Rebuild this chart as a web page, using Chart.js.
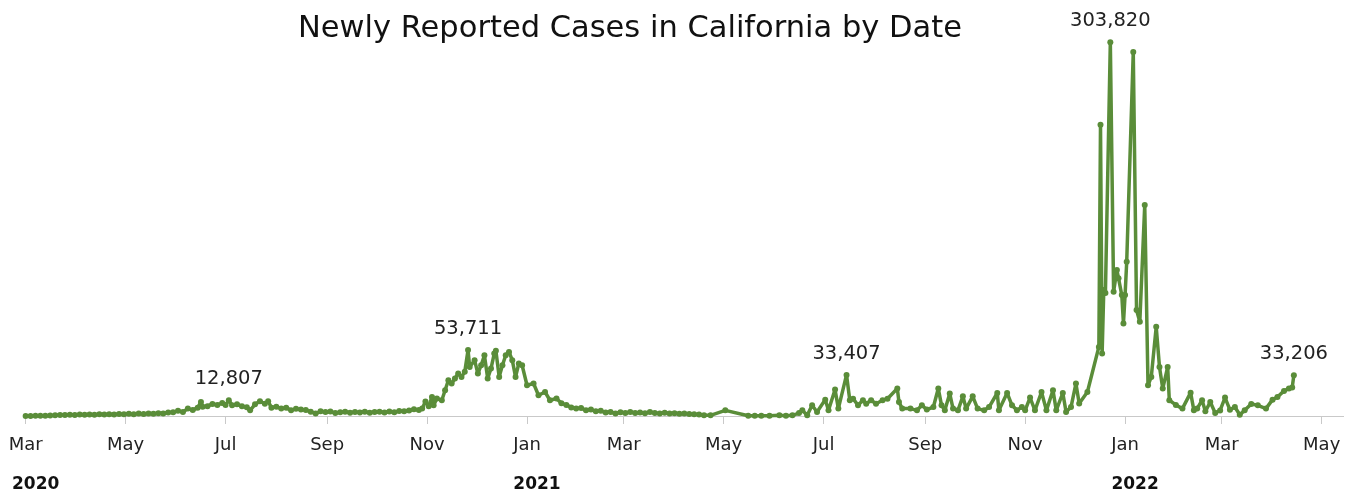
<!DOCTYPE html>
<html>
<head>
<meta charset="utf-8">
<script src="https://cdn.jsdelivr.net/npm/chart.js@4/dist/chart.umd.min.js"></script>
<style>
html,body{margin:0;padding:0;background:#fff;}
#wrap{position:relative;width:1359px;height:494px;overflow:hidden;}
#c{position:absolute;left:0;top:0;}
#title{position:absolute;left:0;top:9px;width:1260px;text-align:center;font-family:"DejaVu Sans";font-size:30.5px;line-height:36px;color:#111;white-space:nowrap;}
</style>
</head>
<body>
<div id="wrap">
<canvas id="c" width="1359" height="494"></canvas>
<div id="title">Newly Reported Cases in California by Date</div>
</div>
<script>
// ---- data ----
const dates = [
'2020-03-01','2020-03-04','2020-03-07','2020-03-10','2020-03-13','2020-03-16','2020-03-19','2020-03-22','2020-03-25','2020-03-28','2020-03-31',
'2020-04-03','2020-04-06','2020-04-09','2020-04-12','2020-04-15','2020-04-18','2020-04-21','2020-04-24','2020-04-27','2020-04-30',
'2020-05-03','2020-05-06','2020-05-09','2020-05-12','2020-05-15','2020-05-18','2020-05-21','2020-05-24','2020-05-27','2020-05-30',
'2020-06-02','2020-06-05','2020-06-08','2020-06-11','2020-06-14','2020-06-16','2020-06-17','2020-06-20','2020-06-23','2020-06-26','2020-06-29',
'2020-07-01','2020-07-03','2020-07-05','2020-07-08','2020-07-11','2020-07-14','2020-07-16','2020-07-19','2020-07-22','2020-07-25','2020-07-27','2020-07-29',
'2020-08-01','2020-08-04','2020-08-07','2020-08-10','2020-08-13','2020-08-16','2020-08-19','2020-08-22','2020-08-25','2020-08-28','2020-08-31',
'2020-09-03','2020-09-06','2020-09-09','2020-09-12','2020-09-15','2020-09-18','2020-09-21','2020-09-24','2020-09-27','2020-09-30',
'2020-10-03','2020-10-06','2020-10-09','2020-10-12','2020-10-15','2020-10-18','2020-10-21','2020-10-24','2020-10-27','2020-10-29','2020-10-31',
'2020-11-02','2020-11-04','2020-11-05','2020-11-07','2020-11-10','2020-11-12','2020-11-14','2020-11-16','2020-11-18','2020-11-20','2020-11-22','2020-11-24','2020-11-26','2020-11-27','2020-11-30',
'2020-12-02','2020-12-04','2020-12-06','2020-12-08','2020-12-10','2020-12-12','2020-12-13','2020-12-15','2020-12-17','2020-12-19','2020-12-21','2020-12-23','2020-12-25','2020-12-27','2020-12-29',
'2021-01-01','2021-01-05','2021-01-08','2021-01-12','2021-01-15','2021-01-19','2021-01-22','2021-01-25','2021-01-28','2021-01-31',
'2021-02-03','2021-02-06','2021-02-09','2021-02-12','2021-02-15','2021-02-18','2021-02-21','2021-02-24','2021-02-27',
'2021-03-02','2021-03-05','2021-03-08','2021-03-11','2021-03-14','2021-03-17','2021-03-20','2021-03-23','2021-03-26','2021-03-29',
'2021-04-01','2021-04-04','2021-04-07','2021-04-10','2021-04-13','2021-04-16','2021-04-19','2021-04-23',
'2021-05-02','2021-05-16','2021-05-20','2021-05-24','2021-05-29',
'2021-06-04','2021-06-08','2021-06-12','2021-06-16','2021-06-18','2021-06-21','2021-06-24','2021-06-27',
'2021-07-02','2021-07-04','2021-07-08','2021-07-10','2021-07-15','2021-07-17','2021-07-19','2021-07-22','2021-07-25','2021-07-27','2021-07-30',
'2021-08-02','2021-08-06','2021-08-09','2021-08-15','2021-08-16','2021-08-18','2021-08-23','2021-08-27','2021-08-30',
'2021-09-02','2021-09-06','2021-09-09','2021-09-11','2021-09-13','2021-09-16','2021-09-18','2021-09-21','2021-09-24','2021-09-26','2021-09-30',
'2021-10-03','2021-10-07','2021-10-10','2021-10-15','2021-10-16','2021-10-21','2021-10-24','2021-10-27','2021-10-30',
'2021-11-01','2021-11-04','2021-11-07','2021-11-11','2021-11-14','2021-11-18','2021-11-20','2021-11-24','2021-11-26','2021-11-29',
'2021-12-02','2021-12-04','2021-12-09','2021-12-16','2021-12-17','2021-12-18','2021-12-19','2021-12-20','2021-12-23','2021-12-25','2021-12-27','2021-12-28','2021-12-30','2021-12-31',
'2022-01-01','2022-01-02','2022-01-06','2022-01-08','2022-01-10','2022-01-13','2022-01-15','2022-01-17','2022-01-20','2022-01-22','2022-01-24','2022-01-27','2022-01-28',
'2022-02-01','2022-02-05','2022-02-10','2022-02-12','2022-02-14','2022-02-17','2022-02-19','2022-02-22','2022-02-25','2022-02-28',
'2022-03-03','2022-03-06','2022-03-09','2022-03-12','2022-03-15','2022-03-19','2022-03-23','2022-03-28',
'2022-04-01','2022-04-04','2022-04-08','2022-04-11','2022-04-13','2022-04-14'
];
const cases = [
30,60,120,200,300,450,600,900,800,1000,900,
1200,1000,1300,1100,1400,1200,1500,1300,1600,1400,
1800,1500,2000,1700,2100,1800,2300,2100,2800,3000,
4200,3300,6000,4800,6800,11400,7500,8000,9800,9000,10500,
9000,12807,8700,9500,8000,7200,4600,9500,12000,10000,12000,6800,
7500,6000,6800,4600,5800,5200,4800,3500,2000,3800,3200,
3600,2500,3000,3400,2600,3300,2800,3500,2600,3200,
3400,2800,3600,3000,4000,3800,4500,5500,4800,6000,11800,
7900,15500,8700,14200,12800,20900,29100,26400,30500,34500,31800,36000,53711,39900,45400,
34500,41300,49400,30500,38600,50800,53000,31800,41300,49400,52100,45400,31800,42700,41300,
25000,26400,16900,19500,12800,14200,10300,9000,7000,6000,
6500,4600,5200,3800,4200,2800,3200,2000,3000,
2500,3300,2400,2900,2200,3300,2500,2000,2600,2000,
2300,1800,2000,1600,1400,1200,540,540,
4600,200,300,300,300,
540,300,540,2400,4600,540,8700,3300,
13300,4600,21500,6000,33407,12800,14100,8700,12800,10000,12800,
10000,12800,14100,22300,11400,6000,6000,4600,8700,
5200,7300,22300,8700,4600,18200,6000,4600,16000,6000,16000,
6000,4600,7300,18700,4600,18700,8700,4600,7300,
4600,15000,4600,19500,4600,20900,4600,18700,3300,7300,
26400,10100,19500,56200,236800,50800,102400,100000,303820,101000,118700,112000,98300,75300,
98300,125400,296000,86100,76600,171600,25000,31800,72500,39900,22300,39900,12800,
9000,6000,19000,4600,6000,12800,3800,11400,2500,4500,
15000,5000,7300,1000,4600,9800,8700,6000,
13300,15500,20400,22300,23100,33206
];
const calloutDates = ['2020-07-03','2020-11-26','2021-07-15','2021-12-23','2022-04-14'];
const monthTicks = ['2020-03-01','2020-05-01','2020-07-01','2020-09-01','2020-11-01','2021-01-01','2021-03-01','2021-05-01','2021-07-01','2021-09-01','2021-11-01','2022-01-01','2022-03-01','2022-05-01'];
const monthLabels = ['Mar','May','Jul','Sep','Nov','Jan','Mar','May','Jul','Sep','Nov','Jan','Mar','May'];
const yearTicks = ['2020-03-01','2021-01-01','2022-01-01'];
const yearLabels = ['2020','2021','2022'];
const xStart = '2020-02-29';
const xEnd = '2022-05-14';
const yMax = 322000;

// ---- chart ----
const t = s => Date.parse(s + 'T00:00:00Z');
const points = dates.map((d, i) => ({ x: t(d), y: cases[i] }));
const green = '#5a8d39';

const calloutPlugin = {
  id: 'callouts',
  afterDatasetsDraw(chart) {
    const meta = chart.getDatasetMeta(0);
    const ctx = chart.ctx;
    ctx.save();
    ctx.font = '19.5px "DejaVu Sans"';
    ctx.fillStyle = '#222';
    ctx.textAlign = 'center';
    ctx.textBaseline = 'alphabetic';
    calloutDates.forEach(d => {
      const i = dates.indexOf(d);
      const el = meta.data[i];
      ctx.fillText(cases[i].toLocaleString('en-US'), el.x, el.y - 16);
    });
    ctx.restore();
  }
};

const noPad = (h) => axis => { axis.height = h; axis.paddingLeft = 0; axis.paddingRight = 0; };

new Chart(document.getElementById('c'), {
  type: 'line',
  data: {
    datasets: [{
      data: points,
      borderColor: green,
      backgroundColor: green,
      borderWidth: 3.5,
      pointRadius: 3,
      pointBorderWidth: 0,
      pointBackgroundColor: green,
      tension: 0,
      clip: false,
      borderJoinStyle: 'round'
    }]
  },
  options: {
    responsive: false,
    animation: false,
    devicePixelRatio: 1,
    events: [],
    layout: { padding: { left: 24, right: 16, top: 20, bottom: 0 } },
    plugins: { legend: { display: false }, tooltip: { enabled: false }, title: { display: false } },
    scales: {
      y: { display: false, min: 0, max: yMax },
      x: {
        type: 'linear',
        position: 'bottom',
        weight: 0,
        min: t(xStart),
        max: t(xEnd),
        afterBuildTicks: axis => { axis.ticks = monthTicks.map(d => ({ value: t(d) })); },
        afterFit: noPad(48),
        grid: { display: true, drawOnChartArea: false, drawTicks: true, tickLength: 8, color: '#c9c9c9', lineWidth: 1 },
        border: { display: true, color: '#c9c9c9', width: 1 },
        ticks: {
          autoSkip: false, maxRotation: 0, padding: 11,
          color: '#222', font: { family: 'DejaVu Sans', size: 18 },
          callback: (v, i) => monthLabels[i]
        }
      },
      x2: {
        type: 'linear',
        position: 'bottom',
        weight: 1,
        min: t(xStart),
        max: t(xEnd),
        afterBuildTicks: axis => { axis.ticks = yearTicks.map(d => ({ value: t(d) })); },
        afterFit: noPad(30),
        grid: { display: false, drawTicks: false },
        border: { display: false },
        ticks: {
          autoSkip: false, maxRotation: 0, padding: 10, labelOffset: 10,
          color: '#111', font: { family: 'DejaVu Sans', size: 17, weight: 'bold' },
          callback: (v, i) => yearLabels[i]
        }
      }
    }
  },
  plugins: [calloutPlugin]
});
</script>
</body>
</html>
